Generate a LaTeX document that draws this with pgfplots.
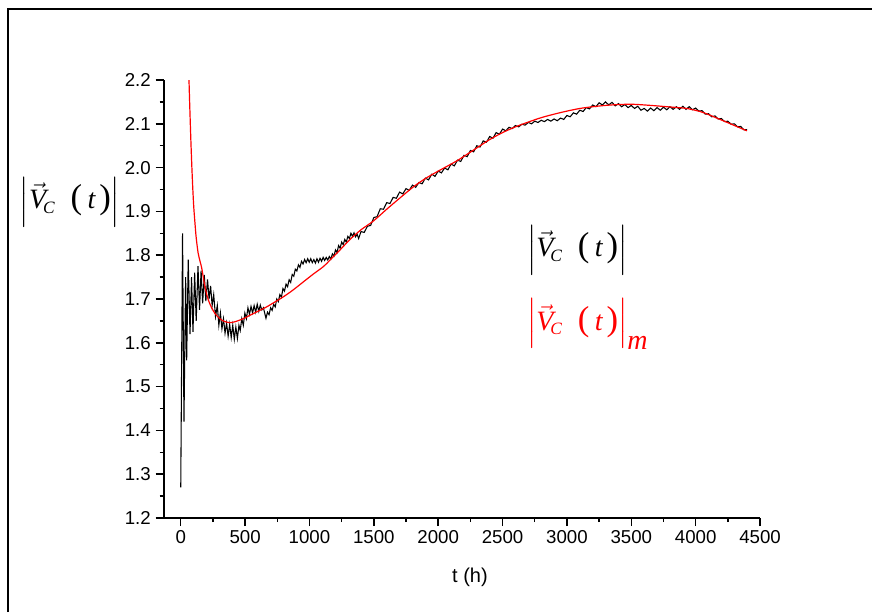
\documentclass[border=0pt]{standalone}
\usepackage{fontspec}
\setmainfont{Liberation Sans}
\newfontfamily\tms{Liberation Serif}
\usepackage{amsmath}
\usepackage{pgfplots}
\pgfplotsset{compat=1.18}
\newcommand{\Vc}{\vec{\text{\itshape V}}_{\!\text{\fontsize{13}{13}\selectfont\itshape C}}}
\newcommand{\Pt}{\text{\fontsize{26}{26}\selectfont(\hspace{4pt}\fontsize{21}{21}\selectfont\itshape t\hspace{3pt}\upshape\fontsize{26}{26}\selectfont)}}
\begin{document}
\begin{tikzpicture}[x=0.75pt,y=0.75pt]
\useasboundingbox (0,0) rectangle (872,612);
\draw[line width=1.5pt] (8,0) -- (8,603) -- (872,603);
\begin{axis}[
 at={(122.625pt,70.5pt)}, anchor=south west,
 scale only axis, width=447.4pt, height=328.5pt,
 xmin=-134, xmax=4500, ymin=1.2, ymax=2.2,
 axis lines=left, axis line style={-, line width=1.5pt},
 tick align=outside, major tick length=6pt, minor tick length=3pt,
 every tick/.style={black, line width=1.1pt},
 xtick={0,500,...,4500}, ytick={1.2,1.3,...,2.2},
 minor x tick num=1, minor y tick num=1,
 scaled ticks=false,
 tick label style={font=\fontsize{14}{16}\selectfont},
 /pgf/number format/assume math mode=true,
 yticklabel style={/pgf/number format/.cd, fixed, fixed zerofill, precision=1},
 xticklabel style={/pgf/number format/.cd, fixed, 1000 sep={}},
]
\addplot[black, line width=0.8pt, sharp plot] coordinates {
(0,1.27) (14,1.85) (25,1.42) (38,1.75) (46,1.56) (58,1.79) (72,1.62) (84,1.75) (95,1.625)
(108,1.76) (120,1.65) (134,1.775) (146,1.675) (158,1.765) (170,1.69) (183,1.755) (195,1.695)
(208,1.745) (220,1.70) (232,1.73) (244,1.685) (256,1.71) (270,1.66) (284,1.685) (296,1.64)
(308,1.668) (320,1.632) (332,1.655) (344,1.622) (356,1.645) (368,1.615) (380,1.642) (392,1.612)
(404,1.640) (416,1.608) (428,1.636) (440,1.610) (452,1.640) (462,1.628) (474,1.655) (486,1.640)
(498,1.668) (510,1.655) (522,1.680) (534,1.665) (546,1.683) (558,1.668) (570,1.685) (582,1.670)
(594,1.688) (606,1.672) (618,1.686) (630,1.675) (642,1.680) (652,1.668) (662,1.656)
(674,1.670) (686,1.664) (698,1.680) (710,1.674) (722,1.688) (734,1.682) (746,1.700) (758,1.694)
(770,1.710) (782,1.704) (794,1.724) (806,1.718) (818,1.734) (830,1.728) (842,1.744) (854,1.738)
(866,1.756) (878,1.752) (890,1.768) (902,1.764) (914,1.778) (926,1.772) (938,1.786) (950,1.780)
(962,1.790) (974,1.783) (986,1.792) (998,1.784) (1010,1.792) (1022,1.783) (1034,1.790) (1046,1.782)
(1058,1.792) (1070,1.784) (1082,1.793) (1094,1.786) (1106,1.795) (1118,1.788) (1130,1.795)
(1142,1.789) (1154,1.797) (1166,1.791) (1178,1.803) (1190,1.798) (1202,1.812) (1214,1.806)
(1226,1.822) (1238,1.816) (1250,1.830) (1262,1.824) (1274,1.836) (1286,1.830) (1298,1.843)
(1310,1.838) (1322,1.850) (1334,1.843) (1346,1.851) (1358,1.842) (1370,1.848) (1382,1.838)
(1400,1.854) (1425,1.852) (1450,1.866) (1475,1.868) (1500,1.886) (1525,1.888) (1550,1.906)
(1575,1.905) (1600,1.920) (1625,1.918) (1650,1.932) (1675,1.930) (1700,1.944) (1725,1.940)
(1750,1.952) (1775,1.948) (1800,1.960) (1825,1.955) (1850,1.966) (1875,1.963) (1900,1.976)
(1925,1.972) (1950,1.985) (1975,1.980) (2000,1.992) (2025,1.988) (2050,1.999) (2075,1.995)
(2100,2.008) (2125,2.004) (2150,2.017) (2175,2.014) (2200,2.028) (2225,2.025) (2250,2.039)
(2275,2.036) (2300,2.050) (2325,2.047) (2350,2.061) (2375,2.058) (2400,2.071) (2425,2.067)
(2450,2.080) (2475,2.076) (2500,2.088) (2525,2.084) (2550,2.092) (2575,2.089) (2600,2.096)
(2625,2.093) (2650,2.099) (2675,2.097) (2700,2.103) (2725,2.100) (2750,2.106) (2775,2.103)
(2800,2.108) (2825,2.105) (2850,2.110) (2875,2.106) (2900,2.111) (2925,2.107) (2950,2.113)
(2975,2.110) (3000,2.119) (3025,2.116) (3050,2.125) (3075,2.122) (3100,2.131) (3125,2.128)
(3150,2.137) (3175,2.134) (3200,2.143) (3225,2.139) (3250,2.148) (3275,2.143) (3300,2.150)
(3325,2.143) (3350,2.149) (3375,2.141) (3400,2.146) (3425,2.139) (3450,2.144) (3475,2.137)
(3500,2.142) (3525,2.135) (3550,2.140) (3575,2.131) (3600,2.135) (3625,2.129) (3650,2.136)
(3675,2.130) (3700,2.137) (3725,2.131) (3750,2.138) (3775,2.132) (3800,2.139) (3825,2.133)
(3850,2.139) (3875,2.133) (3900,2.140) (3925,2.133) (3950,2.139) (3975,2.132) (4000,2.136)
(4025,2.129) (4050,2.130) (4075,2.122) (4100,2.123) (4125,2.116) (4150,2.118) (4175,2.111)
(4200,2.112) (4225,2.105) (4250,2.106) (4275,2.099) (4300,2.100) (4325,2.093) (4350,2.094)
(4375,2.086) (4400,2.087)
};
\addplot[red, line width=0.9pt, smooth] coordinates {
(64,2.200) (70,2.140) (80,2.050) (90,1.975) (100,1.915) (110,1.875) (120,1.840) (135,1.805)
(150,1.786) (162,1.772) (175,1.750) (190,1.725) (214,1.698) (240,1.680) (266,1.667) (300,1.656)
(330,1.650) (360,1.647) (382,1.646) (420,1.648) (460,1.652) (500,1.657) (538,1.663) (600,1.672)
(667,1.682) (730,1.693) (797,1.705) (870,1.720) (952,1.739) (1030,1.757) (1108,1.774) (1170,1.792)
(1237,1.812) (1315,1.836) (1400,1.858) (1496,1.878) (1600,1.905) (1700,1.930) (1807,1.956)
(1900,1.975) (2000,1.992) (2100,2.008) (2170,2.020) (2300,2.045) (2400,2.064) (2500,2.080)
(2600,2.093) (2700,2.104) (2800,2.114) (2900,2.122) (3000,2.129) (3100,2.135) (3200,2.139)
(3300,2.142) (3400,2.144) (3516,2.1445) (3650,2.142) (3776,2.139) (3860,2.137) (3932,2.135)
(4035,2.128) (4100,2.121) (4165,2.113) (4230,2.105) (4294,2.097) (4350,2.090) (4398,2.084)
};
\end{axis}
\node[font=\fontsize{15}{17}\selectfont] at (470,35) {t (h)};
\node[font=\tms\fontsize{21}{24}\selectfont, inner sep=0pt] at (70,410) {$\left|\Vc\;\;\Pt\right|$};
\node[font=\tms\fontsize{21}{24}\selectfont, anchor=west, inner sep=0pt] at (527,362) {$\left|\Vc\;\;\Pt\right|$};
\node[font=\tms\fontsize{21}{24}\selectfont, anchor=west, inner sep=0pt, text=red] at (527,288) {$\left|\Vc\;\;\Pt\right|_{\text{\itshape\fontsize{21}{21}\selectfont m}}$};
\end{tikzpicture}
\end{document}
